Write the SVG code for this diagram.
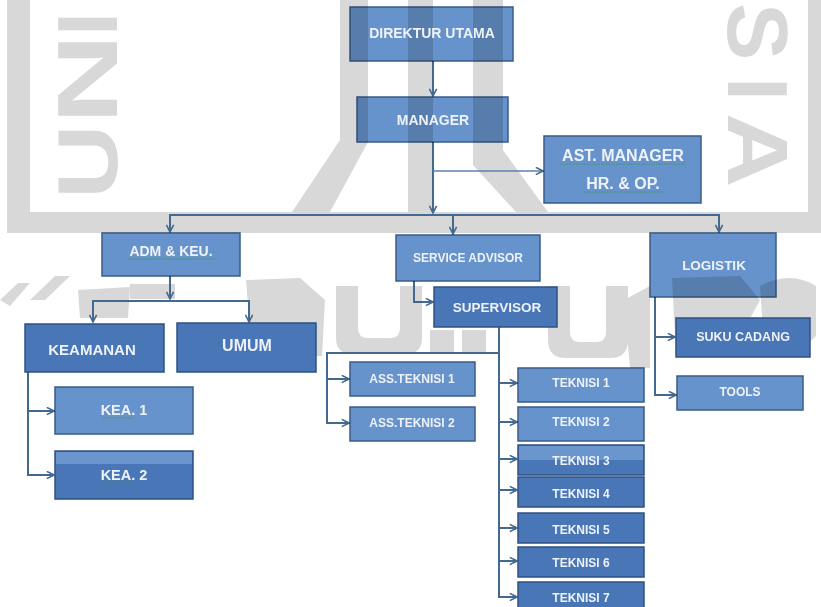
<svg xmlns="http://www.w3.org/2000/svg" width="821" height="607" viewBox="0 0 821 607">
  <style>
    .wm { fill: #d8d8d8; }
    .wmt { fill: #d8d8d8; font-family: "Liberation Sans", Arial, sans-serif; font-weight: bold; font-size: 86px; }
    .box { fill: #6693cc; stroke: #3a5c88; stroke-width: 1.5; mix-blend-mode: multiply; }
    .dark { fill: #4876b6; stroke: #2f5283; stroke-width: 1.5; }
    .band { fill: #6b96cd; }
    .lbl { fill: #eef2f8; font-family: "Liberation Sans", Arial, sans-serif; font-weight: bold; text-anchor: middle; }
    .conn { fill: none; stroke: #44698f; stroke-width: 2; }
    .thin { stroke: #5a82b4; stroke-width: 1.6; }
    .spell { fill: none; stroke: #3f9a52; stroke-width: 1; stroke-dasharray: 1.5 1; }
  </style>
  <defs>
    <marker id="arr" viewBox="0 0 10 10" refX="9" refY="5" markerWidth="9" markerHeight="9" markerUnits="userSpaceOnUse" orient="auto">
      <path d="M1,1 L9,5 L1,9" fill="none" stroke="#44698f" stroke-width="1.8"/>
    </marker>
  </defs>

  <rect width="821" height="607" fill="#ffffff"/>

  <!-- faint logo behind the chart -->
  <g id="watermark">
    <rect class="wm" x="7" y="0" width="23" height="233"/>
    <rect class="wm" x="7" y="212" width="814" height="21"/>
    <rect class="wm" x="808" y="0" width="13" height="233"/>
    <polygon class="wm" points="340,0 368,0 368,142 330,212 292,212 340,140"/>
    <rect class="wm" x="408" y="0" width="25" height="212"/>
    <polygon class="wm" points="473,0 503,0 503,150 548,212 516,212 473,165"/>
    <text class="wmt" transform="translate(117,199) rotate(-90) scale(1.2,1)">U</text>
    <text class="wmt" transform="translate(117,124) rotate(-90) scale(1.45,1)">N</text>
    <text class="wmt" transform="translate(117,36) rotate(-90)">I</text>
    <text class="wmt" transform="translate(728,3) rotate(90)">S</text>
    <text class="wmt" transform="translate(728,77) rotate(90)">I</text>
    <text class="wmt" transform="translate(728,113) rotate(90) scale(1.2,1)">A</text>
    <!-- script band along the lower edge of the logo -->
    <polygon class="wm" points="0,300 18,283 30,283 10,306"/>
    <polygon class="wm" points="30,300 55,276 70,276 45,300"/>
    <polygon class="wm" points="78,290 130,287 128,318 80,318"/>
    <polygon class="wm" points="130,284 175,284 175,299 130,299"/>
    <polygon class="wm" points="246,280 300,278 325,300 322,356 252,356"/>
    <path class="wm" d="M336,286 h22 v42 q0,10 10,10 h22 q10,0 10,-10 v-42 h22 v52 q0,16 -16,16 h-54 q-16,0 -16,-16 z"/>
    <rect class="wm" x="430" y="330" width="24" height="22"/>
    <rect class="wm" x="462" y="330" width="24" height="22"/>
    <path class="wm" d="M548,286 h22 v46 q0,10 10,10 h16 q10,0 10,-10 v-46 h22 v54 q0,18 -18,18 h-44 q-18,0 -18,-18 z"/>
    <polygon class="wm" points="624,300 650,286 650,368 630,368"/>
    <polygon class="wm" points="672,278 740,276 760,300 730,356 676,356"/>
    <path class="wm" d="M760,286 q30,-16 56,0 v50 q-20,22 -52,10 z"/>
  </g>

  <g id="connectors">
    <path class="conn" d="M433,61 V96" marker-end="url(#arr)"/>
    <path class="conn" d="M433,142 V213" marker-end="url(#arr)"/>
    <path class="conn thin" d="M433,171 H543" marker-end="url(#arr)"/>
    <path class="conn" d="M433,215 H170 V232" marker-end="url(#arr)"/>
    <path class="conn" d="M433,215 H719 V232" marker-end="url(#arr)"/>
    <path class="conn" d="M453,215 V234" marker-end="url(#arr)"/>
    <path class="conn" d="M170,276 V299" marker-end="url(#arr)"/>
    <path class="conn" d="M170,301 H93 V322" marker-end="url(#arr)"/>
    <path class="conn" d="M170,301 H249 V322" marker-end="url(#arr)"/>
    <path class="conn" d="M28,372 V475 H54" marker-end="url(#arr)"/>
    <path class="conn" d="M28,411 H54" marker-end="url(#arr)"/>
    <path class="conn" d="M414,281 V302 H433" marker-end="url(#arr)"/>
    <path class="conn" d="M499,327 V597 H517" marker-end="url(#arr)"/>
    <path class="conn" d="M499,383 H517" marker-end="url(#arr)"/>
    <path class="conn" d="M499,422 H517" marker-end="url(#arr)"/>
    <path class="conn" d="M499,459 H517" marker-end="url(#arr)"/>
    <path class="conn" d="M499,490 H517" marker-end="url(#arr)"/>
    <path class="conn" d="M499,528 H517" marker-end="url(#arr)"/>
    <path class="conn" d="M499,561 H517" marker-end="url(#arr)"/>
    <path class="conn" d="M499,353 H327 V423 H349" marker-end="url(#arr)"/>
    <path class="conn" d="M327,379 H349" marker-end="url(#arr)"/>
    <path class="conn" d="M655,297 V395 H676" marker-end="url(#arr)"/>
    <path class="conn" d="M655,337 H675" marker-end="url(#arr)"/>
  </g>

  <g id="direktur-utama">
    <rect class="box" x="350" y="7" width="163" height="54"/>
    <text class="lbl" x="432" y="38" font-size="14">DIREKTUR UTAMA</text>
  </g>
  <g id="manager">
    <rect class="box" x="357" y="97" width="151" height="45"/>
    <text class="lbl" x="433" y="125" font-size="14">MANAGER</text>
  </g>
  <g id="ast-manager">
    <rect class="box" x="544" y="136" width="157" height="67"/>
    <text class="lbl" x="623" y="161" font-size="16">AST. MANAGER</text>
    <text class="lbl" x="623" y="189" font-size="16">HR. &amp; OP.</text>
    <path class="spell" d="M561,164 H685 M584,192 H663"/>
  </g>
  <g id="adm-keu">
    <rect class="box" x="102" y="233" width="138" height="43"/>
    <text class="lbl" x="171" y="256" font-size="14">ADM &amp; KEU.</text>
    <path class="spell" d="M128,259 H215"/>
  </g>
  <g id="service-advisor">
    <rect class="box" x="396" y="235" width="144" height="46"/>
    <text class="lbl" x="468" y="262" font-size="12">SERVICE ADVISOR</text>
  </g>
  <g id="supervisor">
    <rect class="dark" x="434" y="287" width="123" height="40"/>
    <text class="lbl" x="497" y="312" font-size="13.5">SUPERVISOR</text>
  </g>
  <g id="logistik">
    <rect class="box" x="650" y="233" width="126" height="64"/>
    <text class="lbl" x="714" y="270" font-size="13.5">LOGISTIK</text>
  </g>
  <g id="suku-cadang">
    <rect class="dark" x="676" y="318" width="134" height="39"/>
    <text class="lbl" x="743" y="341" font-size="12.5">SUKU CADANG</text>
  </g>
  <g id="tools">
    <rect class="box" x="677" y="376" width="126" height="34"/>
    <text class="lbl" x="740" y="396" font-size="12">TOOLS</text>
  </g>
  <g id="keamanan">
    <rect class="dark" x="25" y="324" width="139" height="48"/>
    <text class="lbl" x="92" y="355" font-size="15">KEAMANAN</text>
  </g>
  <g id="umum">
    <rect class="dark" x="177" y="323" width="139" height="49"/>
    <text class="lbl" x="247" y="351" font-size="16">UMUM</text>
  </g>
  <g id="kea-1">
    <rect class="box" x="55" y="387" width="138" height="47"/>
    <text class="lbl" x="124" y="415" font-size="14.5">KEA. 1</text>
    <path class="spell" d="M103,418 H134"/>
  </g>
  <g id="kea-2">
    <rect class="dark" x="55" y="451" width="138" height="48"/>
    <rect class="band" x="56" y="452" width="136" height="12"/>
    <text class="lbl" x="124" y="480" font-size="14.5">KEA. 2</text>
    <path class="spell" d="M103,483 H134"/>
  </g>
  <g id="ass-teknisi-1">
    <rect class="box" x="350" y="362" width="125" height="34"/>
    <text class="lbl" x="412" y="383" font-size="12">ASS.TEKNISI 1</text>
  </g>
  <g id="ass-teknisi-2">
    <rect class="box" x="350" y="407" width="125" height="34"/>
    <text class="lbl" x="412" y="427" font-size="12">ASS.TEKNISI 2</text>
  </g>
  <g id="teknisi-1">
    <rect class="box" x="518" y="368" width="126" height="34"/>
    <text class="lbl" x="581" y="387" font-size="12">TEKNISI 1</text>
  </g>
  <g id="teknisi-2">
    <rect class="box" x="518" y="407" width="126" height="34"/>
    <text class="lbl" x="581" y="426" font-size="12">TEKNISI 2</text>
  </g>
  <g id="teknisi-3">
    <rect class="dark" x="518" y="445" width="126" height="30"/>
    <rect class="band" x="519" y="446" width="124" height="14"/>
    <text class="lbl" x="581" y="465" font-size="12">TEKNISI 3</text>
  </g>
  <g id="teknisi-4">
    <rect class="dark" x="518" y="477" width="126" height="30"/>
    <text class="lbl" x="581" y="498" font-size="12">TEKNISI 4</text>
  </g>
  <g id="teknisi-5">
    <rect class="dark" x="518" y="513" width="126" height="30"/>
    <text class="lbl" x="581" y="534" font-size="12">TEKNISI 5</text>
  </g>
  <g id="teknisi-6">
    <rect class="dark" x="518" y="547" width="126" height="30"/>
    <text class="lbl" x="581" y="567" font-size="12">TEKNISI 6</text>
  </g>
  <g id="teknisi-7">
    <rect class="dark" x="518" y="582" width="126" height="30"/>
    <text class="lbl" x="581" y="602" font-size="12">TEKNISI 7</text>
  </g>
</svg>
